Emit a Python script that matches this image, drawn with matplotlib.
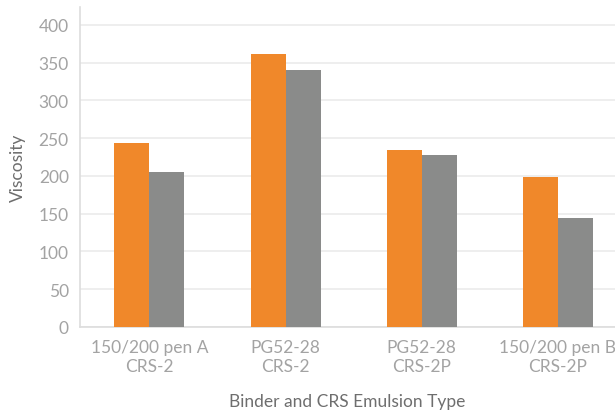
import numpy as np
import matplotlib.pyplot as plt

categories = ['150/200 pen A\nCRS-2', 'PG52-28\nCRS-2', 'PG52-28\nCRS-2P', '150/200 pen B\nCRS-2P']
series_orange = [244, 362, 234, 199]
series_gray = [205, 340, 228, 144]
y_ticks = [0, 50, 100, 150, 200, 250, 300, 350, 400]

plt.rcParams['font.family'] = ['Lato', 'DejaVu Sans']

fig = plt.figure(figsize=(6.15, 4.14), dpi=100)
ax = fig.add_axes([0.130, 0.208, 0.870, 0.773])

x = np.arange(len(categories))
w = 0.257
ax.bar(x - w / 2, series_orange, width=w, color='#F0882A', zorder=3)
ax.bar(x + w / 2, series_gray, width=w, color='#8A8B8A', zorder=3)

ax.set_xlim(-0.51, 3.42)
ax.set_ylim(0, 424)
ax.set_yticks(y_ticks)
ax.set_xticks(x)
ax.set_xticklabels(categories, multialignment='center')
ax.tick_params(axis='both', length=0, labelsize=12.5, labelcolor='#a3a3a3')
ax.tick_params(axis='y', pad=8)
ax.tick_params(axis='x', pad=9)
ax.grid(axis='y', color='#ebebeb', linewidth=1.2, zorder=0)

for s in ['top', 'right']:
    ax.spines[s].set_visible(False)
for s in ['left', 'bottom']:
    ax.spines[s].set_color('#dddddd')
    ax.spines[s].set_linewidth(1.2)

ax.set_ylabel('Viscosity', fontsize=12.5, color='#6e6e6e', labelpad=9)
ax.set_xlabel('Binder and CRS Emulsion Type', fontsize=12.5, color='#6e6e6e', labelpad=14)

fig.savefig('out.png', dpi=100)
